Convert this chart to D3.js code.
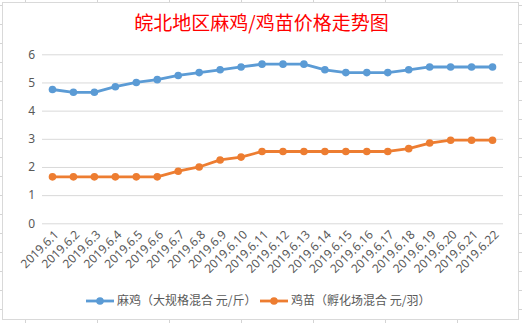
<!DOCTYPE html>
<html><head><meta charset="utf-8">
<script src="https://cdn.jsdelivr.net/npm/d3@7"></script>
<style>
html,body{margin:0;padding:0;background:#fff;}
svg{display:block;font-family:"Noto Sans CJK SC","Noto Sans",sans-serif;}
</style></head>
<body><svg id="c" width="522" height="323"></svg>
<script>
const title = "皖北地区麻鸡/鸡苗价格走势图";
const categories = ["2019.6.1","2019.6.2","2019.6.3","2019.6.4","2019.6.5","2019.6.6","2019.6.7","2019.6.8","2019.6.9","2019.6.10","2019.6.11","2019.6.12","2019.6.13","2019.6.14","2019.6.15","2019.6.16","2019.6.17","2019.6.18","2019.6.19","2019.6.20","2019.6.21","2019.6.22"];
const seriesNames = ["麻鸡（大规格混合 元/斤）","鸡苗（孵化场混合 元/羽）"];
const maji = [4.75,4.65,4.65,4.85,5.0,5.1,5.25,5.35,5.45,5.55,5.65,5.65,5.65,5.45,5.35,5.35,5.35,5.45,5.55,5.55,5.55,5.55];
const jimiao = [1.65,1.65,1.65,1.65,1.65,1.65,1.85,2.0,2.25,2.35,2.55,2.55,2.55,2.55,2.55,2.55,2.55,2.65,2.85,2.95,2.95,2.95];
const yTicks = [0,1,2,3,4,5,6];
const colors = ["#5B9BD5","#ED7D31"];

const svg = d3.select("#c");
// spreadsheet background grid
const bg = svg.append("g").attr("stroke","#d4d4d4").attr("stroke-width",1);
d3.range(25.5, 522, 72).forEach(x=>bg.append("line").attr("x1",x).attr("x2",x).attr("y1",0).attr("y2",323));
d3.range(5.5, 323, 19).forEach(y=>bg.append("line").attr("x1",0).attr("x2",522).attr("y1",y).attr("y2",y));
// chart area
svg.append("rect").attr("x",2.5).attr("y",2.5).attr("width",516).attr("height",317)
  .attr("fill","#fff").attr("stroke","#d9d9d9");

const x = d3.scaleBand().domain(categories).range([42,503]);
const y = d3.scaleLinear().domain([0,6]).range([223.3,54.3]);

// gridlines
const yAxis = d3.axisLeft(y).tickValues(yTicks).tickFormat(d3.format("d")).tickSize(-(503-42)).tickPadding(7);
const ga = svg.append("g").attr("transform","translate(42,0)").call(yAxis);
ga.select(".domain").remove();
ga.selectAll("line").attr("stroke","#d9d9d9");
ga.selectAll("text").attr("fill","#595959").style("font-size","12px").style("font-family","'Noto Sans','Noto Sans CJK SC',sans-serif");

// x axis labels
const xAxis = d3.axisBottom(x).tickSize(0).tickPadding(0);
const gx = svg.append("g").attr("transform","translate(0,223.3)").call(xAxis);
gx.select(".domain").remove();
gx.selectAll("text").attr("fill","#595959").style("font-size","12px")
  .style("font-family","'Noto Sans','Noto Sans CJK SC',sans-serif")
  .attr("text-anchor","end").attr("dy","0.35em")
  .attr("transform","translate(4,9) rotate(-45)");

// series
const cx = d => x(d) + x.bandwidth()/2;
[maji, jimiao].forEach((vals,i)=>{
  const line = d3.line().x((d,j)=>cx(categories[j])).y(d=>y(d));
  svg.append("path").datum(vals).attr("d",line).attr("fill","none")
    .attr("stroke",colors[i]).attr("stroke-width",2.8).attr("stroke-linejoin","round");
  svg.append("g").selectAll("circle").data(vals).join("circle")
    .attr("cx",(d,j)=>cx(categories[j])).attr("cy",d=>y(d)).attr("r",3.8)
    .attr("fill",colors[i]);
});

// title
svg.append("text").attr("x",261.5).attr("y",30).attr("text-anchor","middle")
  .attr("fill","#FF0000").style("font-size","19px").text(title);

// legend
const legX = [86, 260];
seriesNames.forEach((n,i)=>{
  const g = svg.append("g").attr("transform",`translate(${legX[i]},301)`);
  g.append("line").attr("x1",0).attr("x2",28).attr("y1",0).attr("y2",0)
    .attr("stroke",colors[i]).attr("stroke-width",2.8);
  g.append("circle").attr("cx",14).attr("cy",0).attr("r",3.8).attr("fill",colors[i]);
  g.append("text").attr("x",31).attr("y",0).attr("dy","0.35em").attr("fill","#595959")
    .style("font-size","12px").text(n);
});
</script></body></html>
